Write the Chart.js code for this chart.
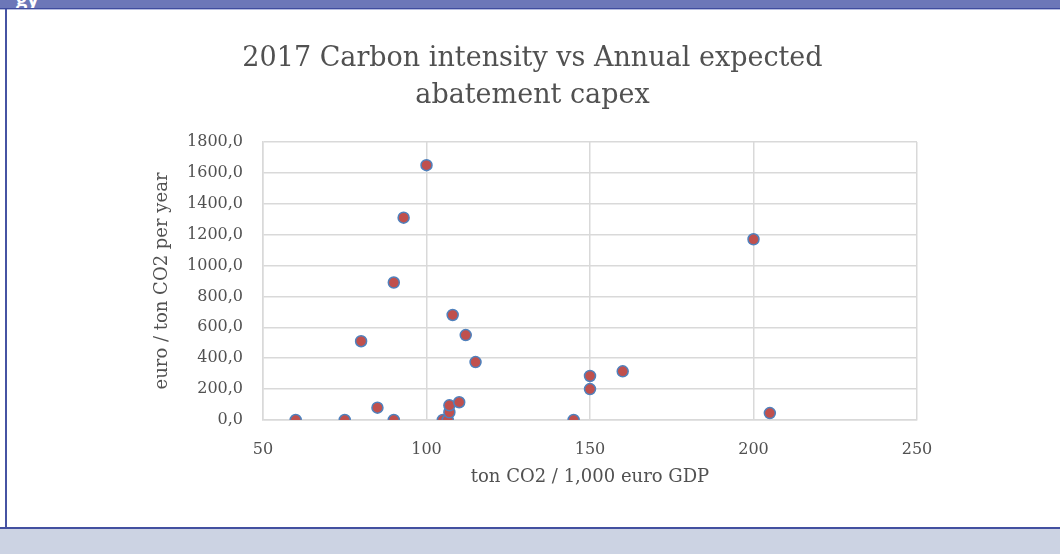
<!DOCTYPE html>
<html>
<head>
<meta charset="utf-8">
<script src="https://cdn.jsdelivr.net/npm/chart.js@4/dist/chart.umd.min.js"></script>
<style>
  html, body { margin: 0; padding: 0; background: #fff; }
  body { width: 1060px; height: 554px; position: relative; overflow: hidden; }
  /* franja superior del recuadro */
  #topBand { position: absolute; left: 0; top: 0; width: 1060px; height: 8px; background: #6c77b8; overflow: hidden; }
  #topBand span { position: absolute; left: 16px; top: -15px; color: #fff; font: bold 20px "Open Sans", sans-serif; }
  #topLine { position: absolute; left: 0; top: 8px; width: 1060px; height: 1px; background: #3f4c9e; }
  #topLine2 { position: absolute; left: 0; top: 9px; width: 1060px; height: 1px; background: #b7bde0; }
  /* borde izquierdo del recuadro */
  #leftLine { position: absolute; left: 5px; top: 9px; width: 2px; height: 518px; background: #4653a3; }
  /* franja inferior */
  #bottomLine { position: absolute; left: 0; top: 527px; width: 1060px; height: 2px; background: #4350a0; }
  #bottomBand { position: absolute; left: 0; top: 529px; width: 1060px; height: 25px; background: #ccd3e3; }
  #wrap { position: absolute; left: 0; top: 0; width: 1060px; height: 554px; }
</style>
</head>
<body>
<div id="topBand"><span>gy</span></div>
<div id="topLine"></div>
<div id="topLine2"></div>
<div id="leftLine"></div>
<div id="bottomLine"></div>
<div id="bottomBand"></div>
<div id="wrap"><canvas id="grafico" width="1060" height="554"></canvas></div>
<script>
// ====== DATOS ======
// intensidad de carbono (ton CO2 / 1.000 euro PIB)
const intensidad = [60, 75, 80, 85, 90, 90, 93, 100, 105, 106.5, 107, 107, 108, 110, 112, 115, 145, 150, 150, 160, 200, 205];
// capex anual esperado de abatimiento (euro / ton CO2 por año)
const capex = [0, 0, 510, 80, 0, 890, 1310, 1650, 0, 0, 50, 95, 680, 115, 550, 375, 0, 200, 285, 315, 1170, 45];

const tituloGrafico = ['2017 Carbon intensity vs Annual expected', 'abatement capex'];
const tituloX = 'ton CO2 / 1,000 euro GDP';
const tituloY = 'euro / ton CO2 per year';

const ejeX = { min: 50, max: 250, paso: 50 };
const ejeY = { min: 0, max: 1800, paso: 200 };

const puntos = intensidad.map((x, i) => ({ x: x, y: capex[i] }));

const serif = 'DejaVu Serif';
const gris = '#515151';
const rejilla = '#d9d9d9';

new Chart(document.getElementById('grafico'), {
  type: 'scatter',
  data: {
    datasets: [{
      data: puntos,
      backgroundColor: '#c0504d',
      borderColor: '#4f81bd',
      borderWidth: 1.5,
      pointRadius: 5.5,
      pointHoverRadius: 5.5
    }]
  },
  options: {
    responsive: false,
    animation: false,
    layout: { padding: { left: 148, right: 143, top: 30, bottom: 62 } },
    plugins: {
      legend: { display: false },
      tooltip: { enabled: false },
      title: {
        display: true,
        text: tituloGrafico,
        color: gris,
        font: { family: serif, size: 27, weight: 'normal', lineHeight: 1.37 },
        padding: { top: 10, bottom: 28 }
      }
    },
    scales: {
      x: {
        type: 'linear',
        min: ejeX.min, max: ejeX.max,
        ticks: { stepSize: ejeX.paso, color: gris, padding: 20, font: { family: serif, size: 16 } },
        grid: { color: rejilla, lineWidth: 1.5, drawTicks: false },
        border: { color: rejilla, width: 1.5 },
        title: { display: true, text: tituloX, color: gris, font: { family: serif, size: 18 } },
        afterFit: (s) => { s.height = 72; }
      },
      y: {
        min: ejeY.min, max: ejeY.max,
        ticks: {
          stepSize: ejeY.paso, color: gris, padding: 20, font: { family: serif, size: 16 },
          callback: (v) => v.toFixed(1).replace('.', ',')
        },
        grid: { color: rejilla, lineWidth: 1.5, drawTicks: false },
        border: { color: rejilla, width: 1.5 },
        title: { display: true, text: tituloY, color: gris, font: { family: serif, size: 18 } },
        afterFit: (s) => { s.width = 115; }
      }
    }
  }
});
</script>
</body>
</html>
